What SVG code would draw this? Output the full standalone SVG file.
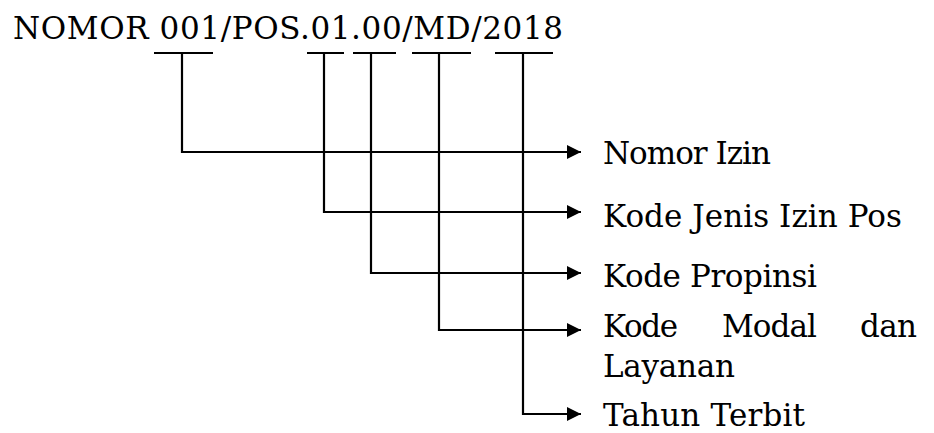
<svg xmlns="http://www.w3.org/2000/svg" width="934" height="433" viewBox="0 0 934 433">
  <style>
    text { font-family: "DejaVu Serif", "Liberation Serif", serif; font-size: 31px; fill: #000; }
    .bar { stroke: #000; stroke-width: 2; fill: none; }
    .wire { stroke: #000; stroke-width: 2.2; fill: none; }
  </style>
  <defs>
    <marker id="head" viewBox="0 0 14 14" refX="14" refY="7" markerWidth="14" markerHeight="14" markerUnits="userSpaceOnUse" orient="auto">
      <path d="M0,0 L14,7 L0,14 Z" fill="#000"/>
    </marker>
  </defs>

  <!-- number format heading with segment underlines -->
  <g id="heading">
    <text x="13" y="39" textLength="550">NOMOR 001/POS.01.00/MD/2018</text>
    <line class="bar" x1="154" y1="53" x2="213" y2="53"/>
    <line class="bar" x1="307" y1="53" x2="344" y2="53"/>
    <line class="bar" x1="353" y1="53" x2="396" y2="53"/>
    <line class="bar" x1="412" y1="53" x2="471" y2="53"/>
    <line class="bar" x1="495" y1="53" x2="553" y2="53"/>
  </g>

  <!-- elbow connectors from each segment to its label -->
  <g id="connectors">
    <path class="wire" d="M182,53 V152 H581" marker-end="url(#head)"/>
    <path class="wire" d="M324,53 V212 H581" marker-end="url(#head)"/>
    <path class="wire" d="M371,53 V273 H581" marker-end="url(#head)"/>
    <path class="wire" d="M439,53 V330 H581" marker-end="url(#head)"/>
    <path class="wire" d="M523,53 V414 H581" marker-end="url(#head)"/>
  </g>

  <g id="nomor-izin">
    <text x="603" y="164" textLength="168">Nomor Izin</text>
  </g>
  <g id="kode-jenis-izin-pos">
    <text x="603" y="227" textLength="299">Kode Jenis Izin Pos</text>
  </g>
  <g id="kode-propinsi">
    <text x="603" y="287" textLength="214">Kode Propinsi</text>
  </g>
  <g id="kode-modal-dan-layanan">
    <text x="603" y="337" textLength="75">Kode</text>
    <text x="722" y="337" textLength="95">Modal</text>
    <text x="860" y="337" textLength="57">dan</text>
    <text x="603" y="377" textLength="132">Layanan</text>
  </g>
  <g id="tahun-terbit">
    <text x="603" y="426" textLength="202">Tahun Terbit</text>
  </g>
</svg>
